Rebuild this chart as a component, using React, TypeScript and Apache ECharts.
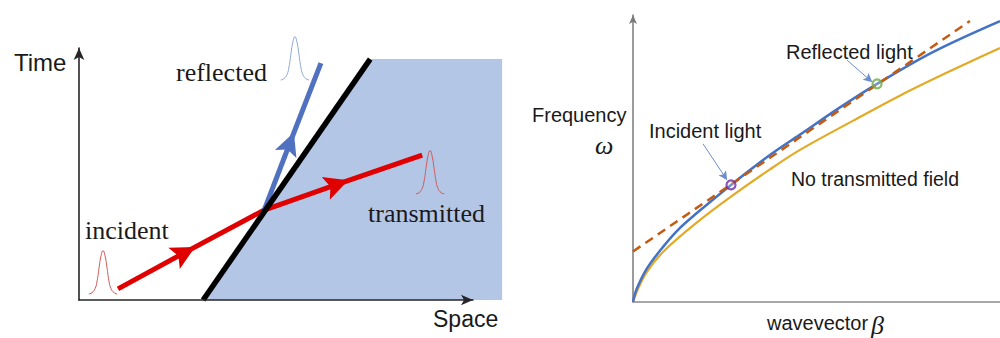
import React, { useEffect, useRef } from 'react';
import * as echarts from 'echarts';

// ---------- Left panel: space–time diagram (arbitrary units) ----------
const mediumOutline = [[3.15, 0], [7.39, 9.56], [10.74, 9.56], [10.74, 0]];
const boundaryLine = [[3.15, 0], [7.39, 9.56]];
// start, arrow-head position, end
const incidentRay = [[0.99, 0.44], [2.68, 1.88], [4.70, 3.57]];
const transmittedRay = [[4.70, 3.57], [6.55, 4.59], [8.71, 5.75]];
const reflectedRay = [[4.70, 3.57], [5.35, 6.22], [6.14, 9.40]];
// pulse shape (offset from pulse centre / base)
const pulseDx = [-0.36, -0.28, -0.2, -0.15, -0.1, -0.05, 0, 0.05, 0.1, 0.15, 0.2, 0.28, 0.36];
const pulseDy = [0, 0.05, 0.22, 0.52, 1.05, 1.52, 1.72, 1.52, 1.05, 0.52, 0.22, 0.05, 0];
const incidentPulseAt = [0.61, 0.24];
const reflectedPulseAt = [5.48, 8.73];
const transmittedPulseAt = [8.91, 4.21];

// ---------- Right panel: dispersion diagram ----------
const betaBlue = [0, 0.1, 0.38, 0.82, 1.28, 1.74, 2.67, 3.73, 4.56, 5.64, 6.65, 8.17, 10];
const omegaBlue = [0, 0.45, 1.17, 1.92, 2.58, 3.10, 4.08, 5.12, 5.84, 6.78, 7.60, 8.71, 9.79];
const betaYellow = [0, 0.1, 0.37, 0.83, 1.77, 2.67, 3.73, 4.55, 6.0, 7.27, 8.6, 10];
const omegaYellow = [0, 0.35, 1.03, 1.76, 2.80, 3.67, 4.62, 5.30, 6.32, 7.19, 8.02, 8.85];
const lightLine = [[0, 1.76], [9.18, 9.79]];
const incidentPoint = [2.67, 4.08];
const reflectedPoint = [6.65, 7.60];
const incidentPointer = [[1.91, 5.51], [2.50, 4.37]];
const reflectedPointer = [[5.83, 8.43], [6.43, 7.76]];

const ARROW = 'path://M10,0L20,24L10,19L0,24Z';
const SANS = '"Liberation Sans", Arial, sans-serif';
const SERIF = '"Liberation Serif", "Times New Roman", serif';

const pulse = (at: number[]) => pulseDx.map((dx, i) => [at[0] + dx, at[1] + pulseDy[i]]);
const zip = (xs: number[], ys: number[]) => xs.map((x, i) => [x, ys[i]]);

const txt = (text: string, x: number, y: number, fontSize: number, fontFamily: string, fontStyle = 'normal') => ({
  type: 'text',
  x,
  y,
  z: 100,
  silent: true,
  style: {
    text,
    fontSize,
    fontFamily,
    fontStyle,
    fill: '#1a1a1a',
    align: 'left',
    verticalAlign: 'middle',
    textAlign: 'left',
    textVerticalAlign: 'middle',
  },
});

export default function App() {
  const ref = useRef<HTMLDivElement>(null);
  useEffect(() => {
    if (!ref.current) return;
    const chart = echarts.init(ref.current, undefined, { renderer: 'svg' });
    const hiddenBits = {
      axisTick: { show: false },
      axisLabel: { show: false },
      splitLine: { show: false },
    };
    const option: any = {
      animation: false,
      backgroundColor: '#ffffff',
      grid: [
        { left: 79, top: 48, width: 394, height: 252, outerBoundsMode: 'none', containLabel: false },
        { left: 633, top: 15, width: 367, height: 287, outerBoundsMode: 'none', containLabel: false },
      ],
      xAxis: [
        {
          type: 'value', gridIndex: 0, min: 0, max: 10, ...hiddenBits, z: 10,
          axisLine: { show: true, onZero: false, symbol: ['none', 'arrow'], symbolSize: [8, 12], lineStyle: { color: '#262626', width: 1.6 } },
        },
        {
          type: 'value', gridIndex: 1, min: 0, max: 10, ...hiddenBits,
          axisLine: { show: true, onZero: false, lineStyle: { color: '#8a8a8a', width: 1.5 } },
        },
      ],
      yAxis: [
        {
          type: 'value', gridIndex: 0, min: 0, max: 10, ...hiddenBits, z: 10,
          axisLine: { show: true, onZero: false, symbol: ['none', 'arrow'], symbolSize: [8, 12], lineStyle: { color: '#262626', width: 1.6 } },
        },
        {
          type: 'value', gridIndex: 1, min: 0, max: 10, ...hiddenBits,
          axisLine: { show: true, onZero: false, symbol: ['none', 'arrow'], symbolSize: [6, 9], lineStyle: { color: '#7a7a7a', width: 1.5 } },
        },
      ],
      series: [
        // medium (shaded polygon)
        {
          type: 'custom', xAxisIndex: 0, yAxisIndex: 0, z: 1, clip: false, silent: true,
          data: [[0, 0]],
          renderItem: (_params: any, api: any) => ({
            type: 'polygon',
            shape: { points: mediumOutline.map((p) => api.coord(p)) },
            style: { fill: '#b4c6e6' },
          }),
        },
        // incident + transmitted (red), arrow parts
        {
          type: 'lines', coordinateSystem: 'cartesian2d', xAxisIndex: 0, yAxisIndex: 0, z: 3,
          symbol: ['none', ARROW], symbolSize: 24,
          lineStyle: { color: '#e00000', width: 5, opacity: 1, cap: 'butt' },
          data: [{ coords: [incidentRay[0], incidentRay[1]] }, { coords: [transmittedRay[0], transmittedRay[1]] }],
        },
        {
          type: 'lines', coordinateSystem: 'cartesian2d', xAxisIndex: 0, yAxisIndex: 0, z: 3,
          symbol: 'none',
          lineStyle: { color: '#e00000', width: 5, opacity: 1, cap: 'butt' },
          data: [{ coords: [incidentRay[1], incidentRay[2]] }, { coords: [transmittedRay[1], transmittedRay[2]] }],
        },
        // reflected (blue)
        {
          type: 'lines', coordinateSystem: 'cartesian2d', xAxisIndex: 0, yAxisIndex: 0, z: 3,
          symbol: ['none', ARROW], symbolSize: 23,
          lineStyle: { color: '#5070c0', width: 5, opacity: 1, cap: 'butt' },
          data: [{ coords: [reflectedRay[0], reflectedRay[1]] }],
        },
        {
          type: 'lines', coordinateSystem: 'cartesian2d', xAxisIndex: 0, yAxisIndex: 0, z: 3,
          symbol: 'none',
          lineStyle: { color: '#5070c0', width: 5, opacity: 1, cap: 'butt' },
          data: [{ coords: [reflectedRay[1], reflectedRay[2]] }],
        },
        // boundary (black)
        {
          type: 'line', xAxisIndex: 0, yAxisIndex: 0, data: boundaryLine, symbol: 'none', clip: false, z: 4,
          lineStyle: { color: '#000000', width: 5.5, cap: 'butt' }, silent: true,
        },
        // pulses
        {
          type: 'line', xAxisIndex: 0, yAxisIndex: 0, data: pulse(incidentPulseAt), symbol: 'none', smooth: true, clip: false, z: 5,
          lineStyle: { color: '#cf5a58', width: 1 }, silent: true,
        },
        {
          type: 'line', xAxisIndex: 0, yAxisIndex: 0, data: pulse(transmittedPulseAt), symbol: 'none', smooth: true, clip: false, z: 5,
          lineStyle: { color: '#cf5a58', width: 1 }, silent: true,
        },
        {
          type: 'line', xAxisIndex: 0, yAxisIndex: 0, data: pulse(reflectedPulseAt), symbol: 'none', smooth: true, clip: false, z: 5,
          lineStyle: { color: '#8fa8d8', width: 1 }, silent: true,
        },
        // ---- right panel ----
        {
          type: 'line', xAxisIndex: 1, yAxisIndex: 1, data: zip(betaYellow, omegaYellow), symbol: 'none', smooth: 0.35, z: 2,
          lineStyle: { color: '#e3aa25', width: 2.2 }, silent: true,
        },
        {
          type: 'line', xAxisIndex: 1, yAxisIndex: 1, data: zip(betaBlue, omegaBlue), symbol: 'none', smooth: 0.35, z: 2,
          lineStyle: { color: '#4472c4', width: 2.5 }, silent: true,
        },
        {
          type: 'line', xAxisIndex: 1, yAxisIndex: 1, data: lightLine, symbol: 'none', z: 3,
          lineStyle: { color: '#c55a11', width: 2.5, type: [9, 6] }, silent: true,
        },
        {
          type: 'scatter', xAxisIndex: 1, yAxisIndex: 1, symbol: 'circle', symbolSize: 9, z: 4, silent: true,
          data: [
            { value: incidentPoint, itemStyle: { color: 'rgba(255,255,255,0.3)', borderColor: '#7030a0', borderWidth: 2.2 } },
            { value: reflectedPoint, itemStyle: { color: 'rgba(255,255,255,0.3)', borderColor: '#70ad47', borderWidth: 2.2 } },
          ],
        },
        {
          type: 'lines', coordinateSystem: 'cartesian2d', xAxisIndex: 1, yAxisIndex: 1, z: 5,
          symbol: ['none', ARROW], symbolSize: 9,
          lineStyle: { color: '#6d8dcf', width: 1, opacity: 1 },
          data: [{ coords: incidentPointer }, { coords: reflectedPointer }],
        },
      ],
      graphic: [
        txt('Time', 14, 62, 24, SANS),
        txt('Space', 433, 319, 23, SANS),
        txt('reflected', 176, 72, 26, SERIF),
        txt('incident', 85, 230, 26, SERIF),
        txt('transmitted', 368, 213, 26, SERIF),
        txt('Frequency', 532, 115, 20, SANS),
        txt('ω', 595, 145, 26, SERIF, 'italic'),
        txt('Incident light', 649, 131, 20, SANS),
        txt('Reflected light', 786, 52, 20, SANS),
        txt('No transmitted field', 791, 179, 19.5, SANS),
        txt('wavevector', 767, 323, 20, SANS),
        txt('β', 871, 325, 26, SERIF, 'italic'),
      ],
    };
    chart.setOption(option);
    return () => chart.dispose();
  }, []);
  return <div ref={ref} style={{ position: 'absolute', left: 0, top: 0, width: 1000, height: 338 }} />;
}
